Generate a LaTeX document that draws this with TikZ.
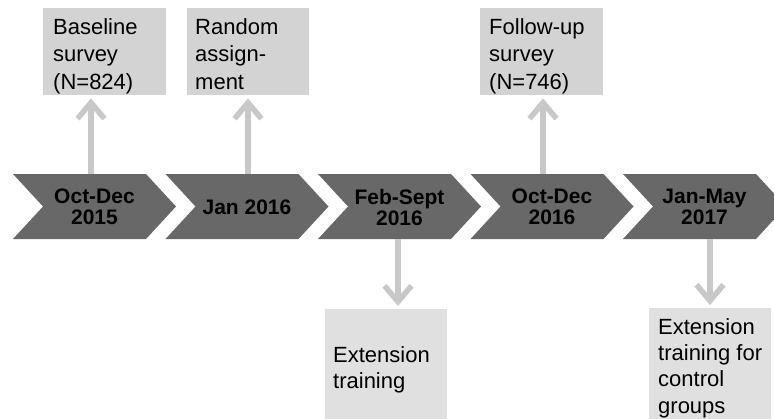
\documentclass[tikz,border=0pt]{standalone}
\usepackage{fontspec}
\setmainfont{Liberation Sans}
\usetikzlibrary{arrows.meta}
\definecolor{chevgray}{RGB}{104,104,104}
\definecolor{topbox}{RGB}{211,211,211}
\definecolor{botbox}{RGB}{224,224,224}
\definecolor{arrgray}{RGB}{200,200,200}
\tikzset{
  chevshape/.style={fill=chevgray},
  chevtext/.style={font=\bfseries\fontsize{21}{21}\selectfont, align=center, text=black, inner sep=0pt},
  boxtext/.style={anchor=north west, inner sep=0pt, align=left, text=black},
  toptext/.style={boxtext, font=\fontsize{22}{27.5}\selectfont},
  bottext/.style={boxtext, font=\fontsize{22}{26.3}\selectfont},
  garrow/.style={draw=arrgray, line width=5.5pt, -{Straight Barb[length=16pt,width=27pt,line width=5.5pt]}, shorten >=3pt},
}
\newcommand{\mychev}[3]{%
  \fill[chevshape] (#1,174) -- ++(133,0) -- ++(30,32.5) -- ++(-30,32.5) -- ++(-133,0) -- ++(30,-32.5) -- cycle;
  \node[chevtext] (#2) at (#1+81.5,207) {#3};
}
\begin{document}
\begin{tikzpicture}[x=1pt,y=-1pt]
\useasboundingbox (0,0) rectangle (774,418);
\clip (0,0) rectangle (774,418);
% chevrons
\mychev{13}{c1}{Oct-Dec\\2015}
\mychev{165.5}{c2}{Jan 2016}
\mychev{318}{c3}{Feb-Sept\\2016}
\mychev{470.5}{c4}{Oct-Dec\\2016}
\mychev{623}{c5}{Jan-May\\2017}
% top boxes
\node[fill=topbox, minimum width=123pt, minimum height=87pt, anchor=north west, inner sep=0pt] (b1) at (43,8) {};
\node[fill=topbox, minimum width=122pt, minimum height=87pt, anchor=north west, inner sep=0pt] (b2) at (187,8) {};
\node[fill=topbox, minimum width=123pt, minimum height=87pt, anchor=north west, inner sep=0pt] (b4) at (480,8) {};
\node[toptext] (t1) at (53,18) {Baseline\\survey\\(N=824)};
\node[toptext] (t2) at (195,18) {Random\\assign-\\ment};
\node[toptext] (t4) at (489,18) {Follow-up\\survey\\(N=746)};
% bottom boxes
\node[fill=botbox, minimum width=122pt, minimum height=115pt, anchor=north west, inner sep=0pt] (b3) at (325,309) {};
\node[fill=botbox, minimum width=122pt, minimum height=115pt, anchor=north west, inner sep=0pt] (b5) at (649,308) {};
\node[bottext] (t3) at (333,346) {Extension\\training};
\node[bottext] (t5) at (658,318) {Extension\\training for\\control\\groups};
% connector start points on the chevrons
\coordinate (s1) at (91,174);
\coordinate (s2) at (248,174);
\coordinate (s4) at (543,174);
\coordinate (s3) at (398,239);
\coordinate (s5) at (710,239);
\draw[garrow] (s1) -- (s1 |- b1.south);
\draw[garrow] (s2) -- (s2 |- b2.south);
\draw[garrow] (s4) -- (s4 |- b4.south);
\draw[garrow] (s3) -- (s3 |- b3.north);
\draw[garrow] (s5) -- (s5 |- b5.north);
\end{tikzpicture}
\end{document}
